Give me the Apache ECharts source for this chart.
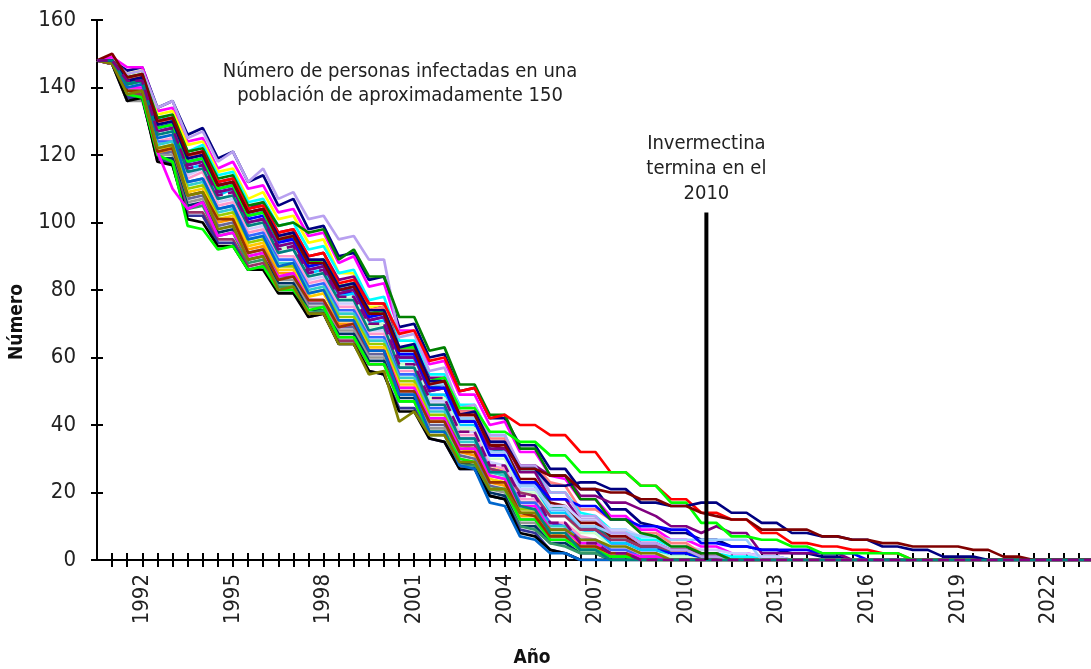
<!DOCTYPE html>
<html>
<head>
<meta charset="utf-8">
<script src="https://cdn.jsdelivr.net/npm/echarts@6/dist/echarts.min.js"></script>
<style>
  html, body { margin: 0; padding: 0; background: #fff; }
  #chart { width: 1091px; height: 669px; }
</style>
</head>
<body>
<div id="chart"></div>
<script>
// half-year time steps of the simulation
const periods = [1990.5, 1991, 1991.5, 1992, 1992.5, 1993, 1993.5, 1994, 1994.5, 1995, 1995.5, 1996,
  1996.5, 1997, 1997.5, 1998, 1998.5, 1999, 1999.5, 2000, 2000.5, 2001, 2001.5, 2002, 2002.5, 2003,
  2003.5, 2004, 2004.5, 2005, 2005.5, 2006, 2006.5, 2007, 2007.5, 2008, 2008.5, 2009, 2009.5, 2010,
  2010.5, 2011, 2011.5, 2012, 2012.5, 2013, 2013.5, 2014, 2014.5, 2015, 2015.5, 2016, 2016.5, 2017,
  2017.5, 2018, 2018.5, 2019, 2019.5, 2020, 2020.5, 2021, 2021.5, 2022, 2022.5, 2023, 2023.5];
const yearLabels = [1992, 1995, 1998, 2001, 2004, 2007, 2010, 2013, 2016, 2019, 2022];
const yTicks = [0, 20, 40, 60, 80, 100, 120, 140, 160];

// ivermectin stop marker (year, top of the marker line)
const ivermectinEnd = 2010.67;
const markerTop = 103;

// simulated runs: infected count per half year (runs stay at 0 once they reach it)
const runA = [148,148,145,146,134,136,126,128,119,121,112,114,105,107,98,99,90,91,83,84,69,70,60,61,50,51,42,42,34,34,27,27,21,21,15,15,11,10,8,8,6,6,4,4,3,3,2,2,1,1,0];
const runB = [148,149,146,146,133,134,124,125,116,118,110,111,103,104,96,97,88,90,81,82,68,68,58,59,49,49,40,41,32,32,25,24,18,18,13,13,9,9,6,6,4,4,2,2,1,1,0];
const runC = [148,148,144,145,132,133,123,124,115,116,107,109,101,102,94,95,85,85,75,75,60,60,48,48,38,38,27,27,17,17,9,9,4,4,1,1,0];
const runD = [148,148,143,144,131,131,121,123,114,115,106,107,99,100,92,93,85,86,77,78,65,65,55,55,46,46,37,37,27,27,20,20,14,13,9,9,6,6,4,4,2,2,1,1,1,1,0];
const runE = [148,147,143,143,130,131,120,121,112,113,104,106,97,98,90,91,83,84,76,76,63,63,54,54,44,44,35,35,26,26,18,18,12,12,8,8,5,5,3,3,2,2,0];
const runF = [148,148,142,143,129,130,119,120,111,112,103,104,96,97,88,89,81,82,74,75,62,62,52,53,43,43,34,33,24,24,17,16,11,11,7,7,4,4,3,3,1,1,0];
const runG = [148,148,142,142,128,130,118,119,110,111,102,103,95,96,87,88,80,80,72,73,61,61,51,52,42,42,33,32,23,23,16,15,10,10,6,6,4,4,2,2,1,1,0];
const runH = [148,148,141,142,128,129,117,118,109,110,101,102,94,95,86,87,79,79,71,72,60,60,50,51,41,41,32,32,22,22,15,15,9,9,5,5,3,3,2,2,0];
const runI = [148,147,141,141,127,128,116,117,108,110,100,101,93,94,85,86,78,79,70,71,59,59,49,49,40,40,31,31,21,21,14,14,9,8,5,5,3,3,1,1,0];
const runJ = [148,148,140,141,126,127,115,116,107,108,99,100,92,93,84,85,77,78,69,70,58,58,48,48,39,39,30,30,20,20,13,13,8,8,4,4,2,2,1,1,0];
const runK = [148,148,140,140,125,126,114,116,106,107,98,99,91,92,83,84,76,76,68,68,57,57,47,47,38,38,29,28,21,21,16,16,12,12,9,9,7,7,4,4,3,3,2,2,1,1,0];
const runL = [148,147,139,140,124,125,113,115,105,106,97,98,90,90,82,83,75,75,67,67,56,56,46,46,37,37,28,27,18,18,11,11,7,6,3,3,2,2,0];
const runM = [148,148,139,139,124,124,112,113,104,105,96,97,89,89,81,82,74,74,66,66,55,55,45,45,36,36,27,26,17,17,11,10,6,6,3,3,1,1,0];
const runN = [148,148,138,139,123,124,111,112,103,104,95,96,88,88,80,81,73,73,65,65,54,54,44,44,35,35,26,25,16,16,10,10,5,5,2,2,1,1,0];
const runO = [148,147,138,138,122,123,110,111,102,103,94,95,87,87,79,80,72,72,64,64,53,53,43,43,34,33,25,24,15,15,9,9,5,5,2,2,0];
const runP = [148,148,137,138,122,122,109,110,101,102,93,94,86,86,78,79,71,71,63,63,52,52,42,42,33,32,24,23,14,14,8,8,4,4,2,2,0];
const runQ = [148,148,137,137,121,121,108,109,100,101,92,93,85,85,77,77,70,70,62,62,51,51,41,41,32,31,23,22,13,13,8,7,4,4,1,1,0];
const runR = [148,147,136,137,120,121,107,108,99,100,91,92,84,84,76,76,69,69,61,61,50,50,40,40,31,30,22,21,12,12,7,7,3,3,1,1,0];
const runS = [148,148,136,136,120,120,106,107,98,99,90,91,83,83,75,75,68,68,60,60,49,49,39,39,30,29,21,20,11,11,6,6,3,3,0];
const runT = [148,148,137,137,119,119,105,106,97,98,89,90,82,82,74,74,67,67,59,59,48,48,38,38,29,28,20,19,10,10,5,5,2,2,0];
const runU = [148,147,137,138,119,118,104,105,96,97,88,89,81,81,73,74,66,66,58,58,47,47,37,37,28,28,19,18,10,9,5,4,2,2,0];
const runV = [148,148,138,138,118,118,103,103,95,95,87,88,80,80,72,73,65,65,58,58,50,50,42,42,34,34,27,26,20,19,13,13,9,9,6,6,4,4,3,3,1,1,0];
const runW = [148,148,137,137,119,117,102,102,94,94,86,87,80,80,73,73,64,64,56,55,45,45,36,35,27,27,19,18,9,8,3,2,0];
const runX = [148,147,136,137,118,117,101,100,93,93,86,86,79,79,72,73,64,64,56,55,44,44,36,35,27,27,19,18,8,7,3,2,0];
const runGreenLow = [148,148,138,137,120,118,99,98,92,93,86,87,80,80,74,75,66,66,58,58,47,47,38,38,30,29,21,21,12,12,6,6,3,3,1,1,0];
const runMagenta = [148,147,140,140,121,110,104,106,96,97,90,91,84,85,77,77,69,70,62,62,51,51,42,42,33,33,25,24,16,16,9,9,5,5,2,2,1,1,0];
const runBrown = [148,148,139,139,121,122,108,109,101,101,91,92,83,84,77,77,69,70,62,62,50,50,41,41,32,32,23,23,14,13,7,7,4,4,2,2,0];
const runSteel = [148,148,140,141,125,126,112,113,104,105,95,96,87,88,79,80,71,71,62,62,49,49,38,38,28,27,17,16,7,6,2,2,0];
const runLightBlue = [148,148,142,143,129,130,118,119,110,111,102,103,95,96,88,89,81,82,74,74,62,62,52,52,42,42,32,32,22,22,15,15,10,10,8,8,7,7,6,6,6,6,6,6,0];
const runPink = [148,148,143,143,129,131,119,121,111,112,103,104,96,96,88,89,81,82,74,75,63,63,53,53,44,44,36,36,28,28,23,22,15,15,12,12,8,8,5,5,2,2,0];
const runPurple = [148,148,141,142,127,128,117,118,109,110,100,101,93,94,86,87,79,80,71,72,60,60,50,51,41,41,33,33,28,28,25,25,19,19,17,17,15,13,10,10,8,10,8,8,2,2,2,2,2,2,0];
const runBlue = [148,148,142,142,128,129,118,119,110,111,102,103,95,95,87,88,80,81,72,73,61,61,51,51,41,41,31,31,23,23,18,18,16,16,12,12,10,10,9,9,5,5,4,4,3,3,3,3,2,2,2,0];
const runLavender = [148,148,144,145,134,136,125,127,118,121,112,116,107,109,101,102,95,96,89,89,66,67,56,57,45,46,37,37,28,28,20,20,13,13,8,8,5,5,3,3,1,1,0];
const runDarkGreen = [148,148,143,144,131,132,121,122,113,114,105,106,99,100,97,98,89,92,84,84,72,72,62,63,52,52,43,43,33,33,25,25,18,18,12,12,8,7,4,4,2,2,0];
const runOlive = [148,147,138,139,122,123,108,109,98,99,89,90,80,81,73,73,64,64,55,56,41,44,37,37,29,29,21,21,14,14,9,9,6,6,4,4,2,2,0];
const runRed = [148,148,142,143,130,131,120,121,112,113,104,105,97,98,90,91,82,83,76,76,67,68,59,60,50,51,42,43,40,40,37,37,32,32,26,26,22,22,18,18,14,14,12,12,8,8,5,5,4,4,3,3,2,2,0];
const runGreen = [148,148,141,142,128,129,118,119,110,111,102,103,95,96,88,89,81,82,73,74,63,63,53,54,45,45,38,38,35,35,31,31,26,26,26,26,22,22,17,17,11,11,7,7,6,6,4,4,2,2,2,2,2,2,0];
const runNavy = [148,148,142,143,129,130,119,120,111,112,103,104,96,97,89,89,81,82,74,74,63,64,53,53,43,44,35,35,27,27,22,22,23,23,21,21,17,17,16,16,17,17,14,14,11,11,8,8,7,7,6,6,4,4,3,3,1,1,1,0];
const runMaroon = [148,150,143,144,130,131,120,121,111,112,103,104,95,96,88,88,80,81,73,73,62,62,52,53,43,43,34,34,27,27,25,25,21,21,20,20,18,18,16,16,14,13,12,12,9,9,9,9,7,7,6,6,5,5,4,4,4,4,3,3,1,1,0];
const runTeal = [148,148,141,142,126,127,115,116,107,108,99,100,91,92,84,85,77,77,68,69,57,57,46,46,36,36,26,26,16,15,8,8,3,3,0];
const runPurpleDash = [148,148,142,142,127,128,116,117,108,109,100,101,92,93,85,86,78,78,70,70,58,58,48,48,38,38,28,28,19,19,11,11,5,5,2,2,0];

/* -------------------------------------------------------------------------- */

const FONT = "'DejaVu Sans Condensed', 'Liberation Sans Narrow', sans-serif";

// draw order: bundle first, the long-lived runs on top
const runs = [
  [runA, '#000080'], [runB, '#FF00FF'], [runC, '#FFFF00'], [runD, '#00FFFF'],
  [runE, '#800080'], [runF, '#800000'], [runG, '#008080'], [runH, '#0000FF'],
  [runI, '#00CCFF'], [runJ, '#CCFFCC'], [runK, '#CCCCFF'], [runL, '#FF99CC'],
  [runM, '#3366FF'], [runN, '#33CCCC'], [runO, '#99CC00'], [runP, '#FFCC00'],
  [runQ, '#FF9900'], [runR, '#666699'], [runS, '#969696'], [runT, '#003366'],
  [runU, '#339966'], [runV, '#993366'], [runW, '#333399'], [runX, '#000000'],
  [runGreenLow, '#00FF00'], [runMagenta, '#FF00FF'], [runBrown, '#993300'],
  [runSteel, '#0066CC'], [runLightBlue, '#99CCFF'], [runPink, '#FF8080'],
  [runPurple, '#800080'], [runBlue, '#0000FF'], [runLavender, '#B8A0F0'],
  [runDarkGreen, '#008000'], [runOlive, '#808000'], [runRed, '#FF0000'],
  [runGreen, '#00FF00'], [runNavy, '#000080'], [runMaroon, '#800000'],
  [runTeal, '#008080'], [runPurpleDash, '#800080', 'dashed']
];

const toPoints = values =>
  periods.map((p, i) => [p, i < values.length ? values[i] : 0]);

const xAxisBase = {
  type: 'value',
  min: periods[0],
  max: periods[periods.length - 1],
  interval: 0.5,
  splitLine: { show: false }
};

const yAxisBase = {
  type: 'value',
  position: 'left',
  min: yTicks[0],
  max: yTicks[yTicks.length - 1],
  interval: yTicks[1] - yTicks[0],
  splitLine: { show: false }
};

const chart = echarts.init(document.getElementById('chart'), null, { renderer: 'canvas' });

const series = runs.map(([values, color, dash]) => ({
  type: 'line',
  data: toPoints(values),
  showSymbol: false,
  symbol: 'none',
  silent: true,
  lineStyle: { color, width: 2.7, type: dash || 'solid' },
  z: 2
}));

series.push({
  type: 'line',
  data: [
    [ivermectinEnd, 0],
    {
      value: [ivermectinEnd, markerTop],
      label: {
        show: true,
        position: 'top',
        distance: 6,
        formatter: 'Invermectina\ntermina en el\n2010',
        fontFamily: FONT,
        fontSize: 20,
        lineHeight: 25,
        color: '#222',
        align: 'center'
      }
    }
  ],
  showSymbol: true,
  symbolSize: 0,
  silent: true,
  lineStyle: { color: '#000', width: 4 },
  z: 5
});

chart.setOption({
  animation: false,
  grid: { left: 97, top: 20, height: 540, width: 997, outerBoundsMode: 'none', containLabel: false },
  xAxis: [
    {
      ...xAxisBase,
      position: 'bottom',
      axisLine: { show: true, onZero: false, lineStyle: { color: '#000', width: 2 } },
      axisTick: { show: true, length: 7, lineStyle: { color: '#000', width: 2 } },
      axisLabel: {
        rotate: 90,
        margin: 14,
        color: '#222',
        fontFamily: FONT,
        fontSize: 22,
        showMinLabel: false,
        showMaxLabel: false,
        formatter: v => (yearLabels.includes(v) ? String(v) : '')
      }
    },
    {
      ...xAxisBase,
      position: 'bottom',
      axisLine: { show: false, onZero: false },
      axisTick: { show: true, inside: true, length: 7, lineStyle: { color: '#000', width: 2 } },
      axisLabel: { show: false }
    }
  ],
  yAxis: [
    {
      ...yAxisBase,
      axisLine: { show: true, onZero: false, lineStyle: { color: '#000', width: 2 } },
      axisTick: { show: true, length: 6, lineStyle: { color: '#000', width: 2 } },
      axisLabel: { margin: 21, color: '#222', fontFamily: FONT, fontSize: 22 }
    },
    {
      ...yAxisBase,
      axisLine: { show: false, onZero: false },
      axisTick: { show: true, inside: true, length: 6, lineStyle: { color: '#000', width: 2 } },
      axisLabel: { show: false }
    }
  ],
  graphic: [
    {
      type: 'text',
      x: 400,
      y: 84,
      silent: true,
      style: {
        text: 'Número de personas infectadas en una\npoblación de aproximadamente 150',
        fontFamily: FONT,
        fontSize: 20,
        lineHeight: 24,
        fill: '#222',
        align: 'center',
        verticalAlign: 'middle'
      }
    },
    {
      type: 'text',
      x: 17,
      y: 322,
      rotation: Math.PI / 2,
      silent: true,
      style: {
        text: 'Número',
        fontFamily: FONT,
        fontWeight: 'bold',
        fontSize: 19,
        fill: '#111',
        align: 'center',
        verticalAlign: 'middle'
      }
    },
    {
      type: 'text',
      x: 532,
      y: 658,
      silent: true,
      style: {
        text: 'Año',
        fontFamily: FONT,
        fontWeight: 'bold',
        fontSize: 19,
        fill: '#111',
        align: 'center',
        verticalAlign: 'middle'
      }
    }
  ],
  series
});

window.addEventListener('resize', () => chart.resize());
</script>
</body>
</html>
